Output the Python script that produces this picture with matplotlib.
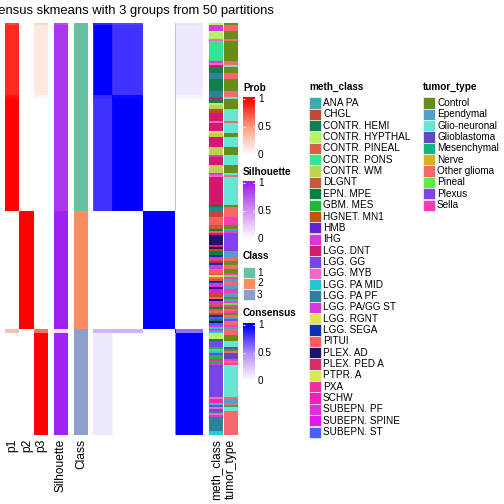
import numpy as np
import matplotlib.pyplot as plt
from matplotlib.colors import LinearSegmentedColormap, ListedColormap
from matplotlib.patches import Rectangle

plt.rcParams['font.family'] = ['Liberation Sans', 'DejaVu Sans']

W = H = 504

title = "Consensus skmeans with 3 groups from 50 partitions"

meth_levels = ["ANA PA", "CHGL", "CONTR. HEMI", "CONTR. HYPTHAL", "CONTR. PINEAL",
               "CONTR. PONS", "CONTR. WM", "DLGNT", "EPN. MPE", "GBM. MES",
               "HGNET. MN1", "HMB", "IHG", "LGG. DNT", "LGG. GG", "LGG. MYB",
               "LGG. PA MID", "LGG. PA PF", "LGG. PA/GG ST", "LGG. RGNT", "LGG. SEGA",
               "PITUI", "PLEX. AD", "PLEX. PED A", "PTPR. A", "PXA", "SCHW",
               "SUBEPN. PF", "SUBEPN. SPINE", "SUBEPN. ST"]
meth_colors = ["#3AABAE", "#BE4B2D", "#108050", "#B4F564", "#D75F46", "#32E696",
               "#BED250", "#C85A3C", "#00823C", "#1EB93C", "#C8500A", "#5F23D2",
               "#D23CD2", "#D2196E", "#7846E6", "#FA64C8", "#23C8D7", "#2D8296",
               "#D737E1", "#E6E150", "#0A32AF", "#FF5F5A", "#1E146E", "#D72D64",
               "#DCE650", "#F52DA0", "#FA1EBE", "#DC32DC", "#E119EB", "#4B5FFF"]

tumor_levels = ["Control", "Ependymal", "Glio-neuronal", "Glioblastoma", "Mesenchymal",
                "Nerve", "Other glioma", "Pineal", "Plexus", "Sella"]
tumor_colors = ["#698C19", "#50A0CD", "#64E6D2", "#5F4BBE", "#14B482",
                "#D7B41E", "#F5696E", "#5AF03C", "#8241F0", "#FA3CB4"]

# sample groups in display order
group_sizes = [1, 35, 2, 56, 59, 2, 51]
group_class = [1, 1, 1, 1, 2, 3, 3]
group_p1 = [0.78, 0.86, 0.95, 1.0, 0.0, 0.33, 0.0]
group_p2 = [0.0, 0.0, 0.0, 0.0, 1.0, 0.0, 0.0]
group_p3 = [0.22, 0.12, 0.05, 0.0, 0.0, 0.65, 1.0]
group_sil = [0.8, 0.9, 0.9, 0.9, 1.0, 0.15, 0.98]
group_consensus = [
    [1.00, 0.85, 0.80, 0.75, 0.0, 0.30, 0.12],
    [0.85, 1.00, 0.85, 0.82, 0.0, 0.32, 0.10],
    [0.80, 0.85, 1.00, 0.97, 0.0, 0.32, 0.05],
    [0.75, 0.82, 0.97, 1.00, 0.0, 0.32, 0.00],
    [0.00, 0.00, 0.00, 0.00, 1.0, 0.00, 0.00],
    [0.30, 0.32, 0.32, 0.32, 0.0, 1.00, 0.60],
    [0.12, 0.10, 0.05, 0.00, 0.0, 0.60, 1.00],
]

meth_runs = [
    ("CONTR. HYPTHAL", 1), ("LGG. PA/GG ST", 3), ("CONTR. HYPTHAL", 4), ("LGG. MYB", 1),
    ("CONTR. PONS", 10), ("LGG. PA/GG ST", 1), ("LGG. MYB", 1), ("LGG. DNT", 1),
    ("CONTR. HEMI", 3), ("LGG. PA PF", 3), ("CONTR. HEMI", 6), ("LGG. PA PF", 3),
    ("LGG. DNT", 1), ("CONTR. HEMI", 2), ("CONTR. HYPTHAL", 1), ("CONTR. WM", 2),
    ("CHGL", 2), ("LGG. DNT", 4), ("LGG. MYB", 1), ("LGG. DNT", 4), ("LGG. RGNT", 1),
    ("CONTR. WM", 2), ("LGG. DNT", 5), ("CONTR. WM", 4), ("LGG. PA/GG ST", 1),
    ("LGG. DNT", 4), ("CONTR. WM", 4), ("LGG. PA/GG ST", 1), ("LGG. MYB", 1),
    ("LGG. DNT", 14), ("EPN. MPE", 1), ("LGG. PA PF", 2),
    ("CHGL", 3), ("PITUI", 4), ("DLGNT", 2), ("EPN. MPE", 1), ("PITUI", 1), ("LGG. DNT", 1),
    ("PLEX. AD", 5), ("PLEX. PED A", 1), ("PLEX. AD", 1), ("HGNET. MN1", 1), ("EPN. MPE", 2),
    ("LGG. SEGA", 1), ("SUBEPN. PF", 1), ("DLGNT", 1), ("LGG. DNT", 1), ("LGG. SEGA", 1),
    ("LGG. PA/GG ST", 2), ("PITUI", 2), ("CONTR. PINEAL", 1), ("PTPR. A", 1), ("PITUI", 1),
    ("DLGNT", 1), ("LGG. SEGA", 1), ("IHG", 2), ("PLEX. AD", 1), ("SUBEPN. SPINE", 2),
    ("HGNET. MN1", 1), ("CHGL", 1), ("PITUI", 1), ("PLEX. AD", 1), ("LGG. PA/GG ST", 1),
    ("DLGNT", 1), ("PXA", 1), ("EPN. MPE", 1), ("CONTR. PINEAL", 1), ("PITUI", 1),
    ("CHGL", 1), ("LGG. SEGA", 1), ("SUBEPN. ST", 1), ("CONTR. HEMI", 1), ("PLEX. AD", 1),
    ("SUBEPN. ST", 1), ("LGG. PA/GG ST", 1), ("LGG. PA MID", 1),
    ("LGG. PA/GG ST", 1), ("LGG. PA MID", 1), ("CONTR. HYPTHAL", 3), ("CONTR. HEMI", 1),
    ("LGG. GG", 3), ("GBM. MES", 1), ("CONTR. PONS", 1), ("LGG. PA MID", 1), ("LGG. GG", 1),
    ("GBM. MES", 2), ("SCHW", 1), ("GBM. MES", 1), ("LGG. PA/GG ST", 1), ("LGG. GG", 16),
    ("LGG. MYB", 1), ("PXA", 2), ("LGG. PA MID", 1), ("LGG. GG", 1), ("LGG. MYB", 1),
    ("LGG. GG", 1), ("LGG. PA PF", 1), ("LGG. MYB", 1), ("LGG. PA/GG ST", 1),
    ("LGG. PA PF", 7), ("LGG. PA MID", 2),
]

tumor_runs = [
    ("Control", 1), ("Other glioma", 3), ("Control", 4), ("Other glioma", 1), ("Control", 10),
    ("Other glioma", 2), ("Glio-neuronal", 1), ("Control", 3), ("Other glioma", 3),
    ("Control", 6), ("Other glioma", 3), ("Glio-neuronal", 1), ("Control", 5),
    ("Glio-neuronal", 6), ("Other glioma", 1), ("Glio-neuronal", 5), ("Control", 2),
    ("Glio-neuronal", 5), ("Control", 4), ("Glio-neuronal", 5), ("Control", 4),
    ("Glio-neuronal", 1), ("Other glioma", 1), ("Glio-neuronal", 14), ("Control", 1),
    ("Other glioma", 2),
    ("Other glioma", 3), ("Sella", 4), ("Control", 2), ("Ependymal", 1), ("Sella", 1),
    ("Plexus", 9), ("Ependymal", 3), ("Other glioma", 2), ("Control", 2), ("Other glioma", 2),
    ("Control", 2), ("Sella", 1), ("Pineal", 1), ("Sella", 1), ("Ependymal", 1),
    ("Other glioma", 2), ("Ependymal", 2), ("Sella", 2), ("Ependymal", 2), ("Control", 1),
    ("Ependymal", 1), ("Sella", 1), ("Pineal", 1), ("Sella", 1), ("Control", 1),
    ("Other glioma", 1), ("Sella", 1), ("Control", 1), ("Other glioma", 1), ("Ependymal", 1),
    ("Plexus", 1), ("Other glioma", 2), ("Sella", 1), ("Ependymal", 1),
    ("Other glioma", 3), ("Control", 3), ("Glio-neuronal", 3), ("Glioblastoma", 1),
    ("Control", 1), ("Other glioma", 1), ("Glioblastoma", 3), ("Sella", 1),
    ("Other glioma", 1), ("Sella", 1), ("Glio-neuronal", 16), ("Other glioma", 1),
    ("Ependymal", 2), ("Other glioma", 1), ("Mesenchymal", 1), ("Glio-neuronal", 2),
    ("Other glioma", 12),
]

class_colors = ["#66C2A5", "#FC8D62", "#8DA0CB"]

# colour ramps (white -> colour, midpoint roughly as in LAB space)
prob_cmap = LinearSegmentedColormap.from_list("prob", ["#FFFFFF", "#FF9E81", "#FF0000"])
sil_cmap = LinearSegmentedColormap.from_list("sil", ["#FFFFFF", "#D392F4", "#A020F0"])
cons_cmap = LinearSegmentedColormap.from_list("cons", ["#FFFFFF", "#B28BFF", "#0000FF"])

# expand groups to samples
sizes = np.array(group_sizes)
p = np.column_stack([np.repeat(group_p1, sizes), np.repeat(group_p2, sizes),
                     np.repeat(group_p3, sizes)])
sil = np.repeat(group_sil, sizes)[:, None]
cls = np.repeat(group_class, sizes)[:, None] - 1
gidx = np.repeat(np.arange(len(sizes)), sizes)
cons = np.array(group_consensus)[np.ix_(gidx, gidx)]
meth = np.concatenate([[meth_levels.index(m)] * k for m, k in meth_runs])[:, None]
tumor = np.concatenate([[tumor_levels.index(t)] * k for t, k in tumor_runs])[:, None]

fig = plt.figure(figsize=(W / 72, H / 72), dpi=72)


def px_axes(x0, y0, x1, y1):
    ax = fig.add_axes([x0 / W, 1 - y1 / H, (x1 - x0) / W, (y1 - y0) / H])
    ax.set_axis_off()
    return ax


top, bot = 23, 435
blocks = [
    ((5, 48), p, prob_cmap, 0, 1),
    ((54, 68), sil, sil_cmap, 0, 1),
    ((74, 88), cls, ListedColormap(class_colors), 0, 2),
    ((93, 203), cons, cons_cmap, 0, 1),
    ((209, 223), meth, ListedColormap(meth_colors), 0, len(meth_levels) - 1),
    ((224, 238), tumor, ListedColormap(tumor_colors), 0, len(tumor_levels) - 1),
]
for (x0, x1), data, cmap, vmin, vmax in blocks:
    ax = px_axes(x0, top, x1, bot)
    ax.imshow(data, cmap=cmap, vmin=vmin, vmax=vmax, aspect='auto', interpolation='nearest')

# column labels
col_labels = [("p1", 12.5), ("p2", 27), ("p3", 41), ("Silhouette", 61), ("Class", 81),
              ("meth_class", 216), ("tumor_type", 231)]
for lab, xc in col_labels:
    fig.text(xc / W, 1 - 439 / H, lab, rotation=90, ha='center', va='top', fontsize=12)

fig.text(274 / W, 1 - 14 / H, title, ha='right', va='baseline', fontsize=13)


def colorbar_legend(name, y_title, y0, y1, cmap):
    fig.text(243 / W, 1 - y_title / H, name, fontsize=10, fontweight='bold', va='center')
    ax = px_axes(243, y0, 255, y1)
    grad = np.linspace(1.04, 0, 100)[:, None]
    ax.imshow(grad, cmap=cmap, vmin=0, vmax=1, aspect='auto', extent=[0, 1, 0, 1.04])
    ax.set_xlim(0, 1)
    ax.set_ylim(0, 1.04)
    for v in [0.5, 1.0]:
        ax.hlines(v, 0, 0.18, color='white', lw=1)
        ax.hlines(v, 0.82, 1, color='white', lw=1)
    for v, s in [(0, "0"), (0.5, "0.5"), (1, "1")]:
        yy = y1 - (y1 - y0) * v / 1.04
        fig.text(258 / W, 1 - yy / H, s, fontsize=10, va='center')


colorbar_legend("Prob", 88, 97, 155, prob_cmap)
colorbar_legend("Silhouette", 172, 181, 239, sil_cmap)
colorbar_legend("Consensus", 313, 323, 381, cons_cmap)


def discrete_legend(name, x, y_title, y_first, labels, colors, step=11.35):
    fig.text(x / W, 1 - y_title / H, name, fontsize=10, fontweight='bold', va='center')
    for i, (lab, col) in enumerate(zip(labels, colors)):
        yc = y_first + i * step
        fig.add_artist(Rectangle((x / W, 1 - (yc + 5.6) / H), 11.5 / W, 11.2 / H,
                                 transform=fig.transFigure, facecolor=col,
                                 edgecolor='white', lw=0.6))
        fig.text((x + 14) / W, 1 - yc / H, lab, fontsize=10, va='center')


discrete_legend("Class", 243, 256, 272.5, ["1", "2", "3"], class_colors, step=11)
discrete_legend("meth_class", 309, 87, 103, meth_levels, meth_colors)
discrete_legend("tumor_type", 423, 87, 103, tumor_levels, tumor_colors)

fig.savefig("out.png", dpi=72)
